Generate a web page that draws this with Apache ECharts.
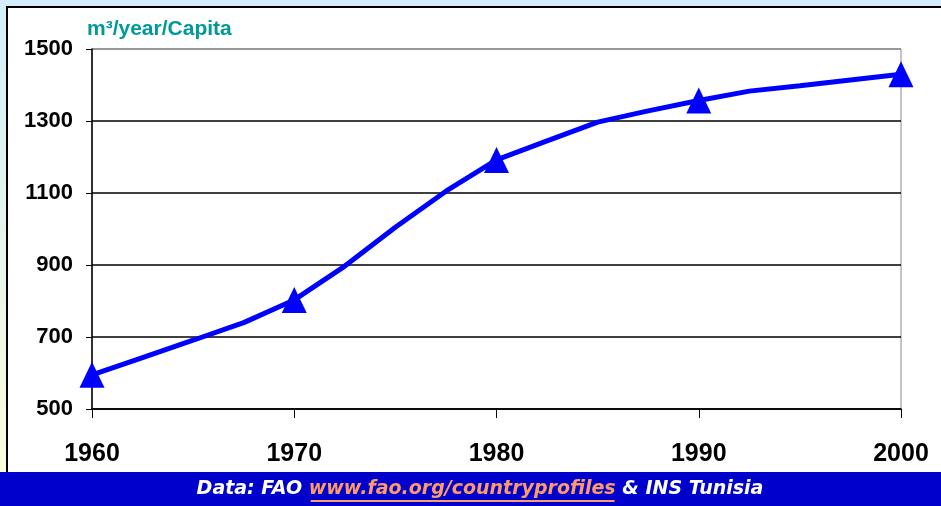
<!DOCTYPE html>
<html>
<head>
<meta charset="utf-8">
<script src="https://cdn.jsdelivr.net/npm/echarts@6/dist/echarts.min.js"></script>
<style>
  html, body { margin: 0; padding: 0; }
  #chart { width: 941px; height: 506px; }
</style>
</head>
<body>
<div id="chart"></div>
<script>
// water availability per capita (m3/year)
var years = [1960, 1962.5, 1965, 1967.5, 1970, 1972.5, 1975, 1977.5, 1980,
             1982.5, 1985, 1987.5, 1990, 1992.5, 1995, 1997.5, 2000];
var values = [595, 643, 691, 740, 803, 897, 1005, 1105, 1192,
              1245, 1297, 1328, 1357, 1383, 1398, 1414, 1430];
var unitLabel = "m³/year/Capita";
var sourceParts = ["Data: FAO ", "www.fao.org/countryprofiles", " & INS Tunisia"];

var labelFont = "'Liberation Sans', Arial, sans-serif";
var footFont = "italic bold 19px 'DejaVu Sans', Verdana, sans-serif";

// measure footer pieces so the link underline sits under the right words
var ctx = document.createElement("canvas").getContext("2d");
ctx.font = footFont;
var widths = sourceParts.map(function (s) { return ctx.measureText(s).width; });
var total = widths[0] + widths[1] + widths[2];
var startX = 480 - total / 2;
var footY = 489;

var chart = echarts.init(document.getElementById("chart"));
chart.setOption({
  backgroundColor: {
    type: "linear", x: 0, y: 0, x2: 0, y2: 1,
    colorStops: [{ offset: 0, color: "#d3eefa" }, { offset: 1, color: "#fdfddb" }]
  },
  graphic: [
    { type: "rect", z: -10, shape: { x: 7, y: 7, width: 960, height: 480 },
      style: { fill: "#fff", stroke: "#000", lineWidth: 2 } },
    { type: "rect", z: 50, shape: { x: 0, y: 472, width: 941, height: 34 },
      style: { fill: "#0000cc" } },
    { type: "text", z: 51, x: startX, y: footY,
      style: { text: sourceParts[0], font: footFont, fill: "#fff", textVerticalAlign: "middle" } },
    { type: "text", z: 51, x: startX + widths[0], y: footY,
      style: { text: sourceParts[1], font: footFont, fill: "#ff9966", textVerticalAlign: "middle" } },
    { type: "rect", z: 51, shape: { x: startX + widths[0] + 2, y: footY + 11, width: widths[1] - 3, height: 2 },
      style: { fill: "#ff9966" } },
    { type: "text", z: 51, x: startX + widths[0] + widths[1], y: footY,
      style: { text: sourceParts[2], font: footFont, fill: "#fff", textVerticalAlign: "middle" } },
    { type: "text", z: 51, left: 87, top: 19,
      style: { text: unitLabel, font: "bold 21px " + labelFont, fill: "#009999" } }
  ],
  grid: {
    left: 92, right: 40, top: 49, bottom: 97,
    show: true, borderColor: "#888", borderWidth: 1, backgroundColor: "transparent"
  },
  xAxis: {
    type: "value", min: 1960, max: 2000, interval: 10,
    axisLine: { lineStyle: { color: "#000", width: 1.5 } },
    axisTick: { length: 9, lineStyle: { color: "#000", width: 1 } },
    splitLine: { show: false },
    axisLabel: { margin: 33, color: "#000", fontWeight: "bold", fontSize: 25, fontFamily: labelFont,
                 formatter: function (v) { return String(v); } }
  },
  yAxis: {
    type: "value", min: 500, max: 1500, interval: 200,
    axisLine: { show: true, lineStyle: { color: "#000", width: 1.5 } },
    axisTick: { show: true, length: 6, lineStyle: { color: "#000" } },
    splitLine: { show: true, lineStyle: { color: ["#000", "#000", "#000", "#000", "#000", "#888"], width: 1.5 } },
    axisLabel: { margin: 19, color: "#000", fontWeight: "bold", fontSize: 22, fontFamily: labelFont,
                 formatter: function (v) { return String(v); } }
  },
  series: [{
    type: "line",
    data: years.map(function (y, i) { return [y, values[i]]; }),
    lineStyle: { color: "#0000ff", width: 5 },
    itemStyle: { color: "#0000ff" },
    symbol: "triangle",
    showAllSymbol: true,
    symbolSize: function (v) { return v[0] % 10 === 0 ? [25, 26] : 0; },
    clip: false,
    animation: false
  }]
});
</script>
</body>
</html>
